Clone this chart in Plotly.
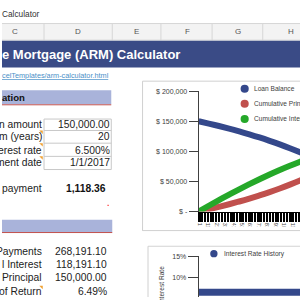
import plotly.graph_objects as go

W, H = 300, 300
FONT = "Liberation Sans"

# ---------------- data ----------------
years = [0, 1, 2, 3, 4, 5, 6, 7, 8, 9, 10, 11, 12, 13, 14, 15, 16, 17, 18, 19, 20]
loan_balance = [150000, 146218, 142183, 137878, 133285, 128383, 123154, 117574, 111621,
                105269, 98491, 91260, 83544, 75312, 66528, 57156, 47156, 36487, 25103, 12957, 0]
cum_principal = [0, 3782, 7817, 12122, 16716, 21617, 26846, 32426, 38379,
                 44731, 51509, 58740, 66456, 74688, 83472, 92844, 102844, 113513, 124897, 137043, 150000]
cum_interest = [0, 9639, 19024, 28139, 36966, 45485, 53676, 61516, 68983,
                76051, 82694, 88883, 94588, 99776, 104412, 108460, 111881, 114632, 116669, 117943, 118191]
rate_history = [6.5, 6.5, 6.5, 6.5, 6.5, 6.5, 6.5, 6.5, 6.5, 6.5, 6.5,
                6.5, 6.5, 6.5, 6.5, 6.5, 6.5, 6.5, 6.5, 6.5, 6.5]
series_names = ["Loan Balance", "Cumulative Principal", "Cumulative Interest"]

y1_tickvals = [0, 50000, 100000, 150000, 200000]
y1_ticktext = ["$ -", "$ 50,000", "$ 100,000", "$ 150,000", "$ 200,000"]
y2_tickvals = [5, 10, 15]
y2_ticktext = ["5%", "10%", "15%"]
x_tick_months = [1, 11, 21, 31, 41, 51, 61, 71, 81, 91, 101, 111]
x_tick_labels = ["1", "11", "21", "31", "41", "51", "61", "71", "81", "91", "101", "111"]
col_letters = ["C", "D", "E", "F", "G", "H"]

input_labels = ["n amount", "m (years)", "erest rate", "ment date"]
input_values = ["150,000.00", "20", "6.500%", "1/1/2017"]
summary_labels = ["Payments", "l Interest", "Principal", "of Return"]
summary_values = ["268,191.10", "118,191.10", "150,000.00", "6.49%"]

BLUE = "#34488b"
RED = "#c0504d"
GREEN = "#25a829"
colors = [BLUE, RED, GREEN]

months = [y * 12 for y in years]


def px(x):
    return x / W


def py(y):
    return 1 - y / H


fig = go.Figure()

for name, vals, c in zip(series_names, [loan_balance, cum_principal, cum_interest], colors):
    fig.add_trace(go.Scatter(x=months, y=vals, mode="lines", name=name,
                             line=dict(color=c, width=6, shape="spline"),
                             xaxis="x", yaxis="y", showlegend=False))

fig.add_trace(go.Scatter(x=months, y=rate_history, mode="lines", name="Interest Rate History",
                         line=dict(color=BLUE, width=7), xaxis="x2", yaxis="y2", showlegend=False))

shapes = []
ann = []


def rect(x0, y0, x1, y1, fill, line=None, layer="below"):
    shapes.append(dict(type="rect", xref="paper", yref="paper", x0=px(x0), x1=px(x1),
                       y0=py(y0), y1=py(y1), fillcolor=fill,
                       line=dict(width=0) if line is None else dict(color=line, width=1),
                       layer=layer))


def hline(x0, x1, y, color, width=1, layer="below"):
    shapes.append(dict(type="line", xref="paper", yref="paper", x0=px(x0), x1=px(x1),
                       y0=py(y), y1=py(y), line=dict(color=color, width=width), layer=layer))


def vline(x, y0, y1, color, width=1, layer="below"):
    shapes.append(dict(type="line", xref="paper", yref="paper", x0=px(x), x1=px(x),
                       y0=py(y0), y1=py(y1), line=dict(color=color, width=width), layer=layer))


def text(x, y, s, size, color="#222222", xanchor="left", bold=False, angle=0):
    if bold:
        s = "<b>" + s + "</b>"
    ann.append(dict(xref="paper", yref="paper", x=px(x), y=py(y), text=s, showarrow=False,
                    xanchor=xanchor, yanchor="middle", textangle=angle,
                    borderpad=0, borderwidth=0,
                    font=dict(family=FONT, size=size, color=color)))


def circle(cx, cy, r, color):
    shapes.append(dict(type="circle", xref="paper", yref="paper", x0=px(cx - r), x1=px(cx + r),
                       y0=py(cy + r), y1=py(cy - r), fillcolor=color, line=dict(width=0),
                       layer="above"))


def tri(x, y, color="#f0a030"):
    path = "M {} {} L {} {} L {} {} Z".format(px(x - 3.5), py(y), px(x), py(y), px(x), py(y + 3.5))
    shapes.append(dict(type="path", xref="paper", yref="paper", path=path,
                       fillcolor=color, line=dict(width=0), layer="above"))


# top title bar
text(0, 10.5, "Calculator", 8.3, "#333333")
# column header row
rect(0, 20, 300, 37, "#f3f3f3")
hline(0, 300, 20, "#d6d6d6")
hline(0, 300, 37, "#d6d6d6")
for xb in [42.3, 111, 160, 211.5, 262.5]:
    vline(xb, 20, 37, "#d6d6d6")
for letter, xc in zip(col_letters, [13.3, 76.7, 135.7, 186.3, 237.5, 290.7]):
    text(xc, 28.5, letter, 8, "#555555", xanchor="center")

# blue banner
rect(0, 37.5, 300, 65, "#3a4b86")
text(0, 51.5, "e Mortgage (ARM) Calculator", 13, "white", bold=True)

# link
text(0, 73, "<u>celTemplates/arm-calculator.html</u>", 7.3, "#4a90c8")

# section header
rect(0, 88.3, 110, 102.7, "#a9b3da")
hline(0, 110, 103.2, RED, 1)
text(0, 95.5, "ation", 9.6, "#111111", bold=True)

# input rows
row_y = [123.5, 135.5, 149.5, 162.5]
rect(42.3, 117.8, 110, 169.5, "white", "#c8c8c8")
for yb in [129.5, 142.5, 156]:
    hline(42.3, 110, yb, "#c8c8c8")
for lab, val, yy in zip(input_labels, input_values, row_y):
    text(40, yy, lab, 10.3, "#222222", xanchor="right")
    text(108.7, yy, val, 10.3, "#222222", xanchor="right")
for yy in [129.5, 142.5, 156]:
    tri(41, yy)

# payment
text(40, 188.5, "payment", 10.3, "#222222", xanchor="right")
text(105, 188.5, "1,118.36", 10.3, "#111111", xanchor="right", bold=True)
rect(106.2, 205.5, 107.4, 206.7, "#ff3030")

# summary header
rect(0, 221, 111, 233.7, "#a9b3da")
hline(0, 111, 234, RED, 1)
sum_y = [253.5, 267, 280.5, 294]
for lab, val, yy in zip(summary_labels, summary_values, sum_y):
    text(40, yy, lab, 10.3, "#222222", xanchor="right")
    text(106, yy, val, 10.3, "#222222", xanchor="right")
tri(41, 288.5)

# chart frames
vline(141.5, 79, 232, "#d0d0d0")
hline(141.5, 300, 79, "#d0d0d0")
vline(147, 248, 300, "#d0d0d0")
hline(147, 300, 248, "#d0d0d0")
# chart 1 clips its category labels at its lower edge
rect(142, 227.8, 300, 247, "white", layer="above")
hline(141.5, 300, 232, "#d0d0d0", layer="above")
vline(141.5, 227.8, 232, "#d0d0d0", layer="above")

# chart 1 legend
for i, (name, c) in enumerate(zip(series_names, colors)):
    yy = [86.7, 102.2, 117.7][i]
    circle(244.3, yy, 4.1, c)
    text(254, yy, name, 6.6, "#404040")

# chart 2 legend + axis title
circle(213.3, 255.7, 3.7, BLUE)
text(223, 255.7, "Interest Rate History", 6.6, "#404040")
text(160.7, 288, "Interest Rate", 6.6, "#404040", xanchor="center", angle=-90)

y1_bottom, y1_top = 212.5, 89.3
y2_top = 258.3
y2_low = 15 - (300 - y2_top) / 21.7 * 5

fig.update_layout(
    width=W, height=H, margin=dict(l=0, r=0, t=0, b=0),
    paper_bgcolor="white", plot_bgcolor="rgba(0,0,0,0)",
    shapes=shapes, annotations=ann, showlegend=False,
    xaxis=dict(domain=[px(198), 1], range=[0, 120], anchor="y",
               showline=True, linecolor="black", linewidth=1,
               tickmode="array", tickvals=x_tick_months,
               ticktext=x_tick_labels, tickangle=90,
               ticks="outside", ticklen=9, tickwidth=2, tickcolor="black",
               minor=dict(dtick=3.5, tick0=0, ticks="outside", ticklen=9, tickwidth=2, tickcolor="black"),
               tickfont=dict(family=FONT, size=5.5, color="#404040"),
               showgrid=False, zeroline=False),
    yaxis=dict(domain=[py(y1_bottom), py(y1_top)], range=[0, 200000], anchor="x",
               showline=True, linecolor="#404040", linewidth=1,
               tickmode="array", tickvals=y1_tickvals, ticktext=y1_ticktext,
               ticks="outside", ticklen=9, tickcolor="#404040", tickwidth=1,
               tickfont=dict(family=FONT, size=7, color="#404040"),
               showgrid=False, zeroline=False),
    xaxis2=dict(domain=[px(198), 1], range=[0, 120], anchor="y2", visible=False),
    yaxis2=dict(domain=[0, py(y2_top)], range=[y2_low, 15], anchor="x2",
                showline=True, linecolor="#404040", linewidth=1,
                tickmode="array", tickvals=y2_tickvals, ticktext=y2_ticktext,
                ticks="outside", ticklen=10, tickcolor="#404040", tickwidth=1,
                tickfont=dict(family=FONT, size=7, color="#404040"),
                showgrid=False, zeroline=False),
)

fig.write_html("out.html")
